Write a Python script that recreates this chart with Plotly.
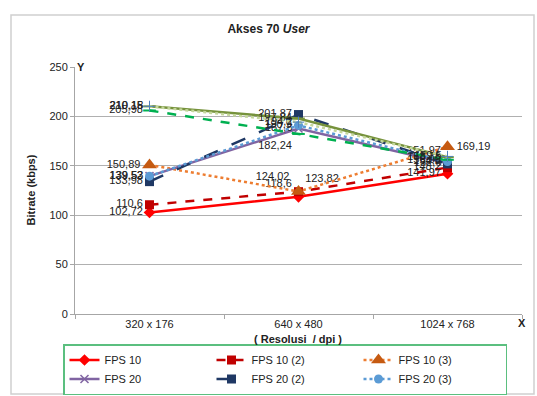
import plotly.graph_objects as go

categories = ["320 x 176", "640 x 480", "1024 x 768"]
fps10 = [102.72, 118.6, 141.97]
fps10_2 = [110.6, 123.82, 148.2]
fps10_3 = [150.89, 124.02, 169.19]
fps20 = [139.53, 187.8, 152.6]
fps20_2 = [133.98, 201.87, 151.97]
fps20_3 = [139.52, 190.9, 154.3]
fps30 = [210.15, 197.84, 158.78]
fps30_2 = [205.98, 182.24, 156.09]
fps30_3 = [210.18, 194.2, 159.5]
y_ticks = [0, 50, 100, 150, 200, 250]

xs = list(range(len(categories)))

def fmt(v):
    s = ("%.2f" % v).rstrip("0").rstrip(".")
    return s.replace(".", ",")

series = [
    ("FPS 10", fps10, dict(color="#FF0000", width=2.5, dash="solid"), dict(symbol="diamond", size=9, color="#FF0000"), True,
     ["middle left", "top left", "middle left"]),
    ("FPS 10 (2)", fps10_2, dict(color="#C00000", width=2.5, dash="dash"), dict(symbol="square", size=9, color="#C00000"), True,
     ["middle left", "top right", "middle left"]),
    ("FPS 10 (3)", fps10_3, dict(color="#ED7D31", width=2.5, dash="dot"), dict(symbol="triangle-up", size=13, color="#C55A11"), True,
     ["middle left", "top left", "middle right"]),
    ("FPS 20", fps20, dict(color="#8064A2", width=2.5, dash="solid"), dict(symbol="x-thin", size=8, color="#8064A2", line=dict(width=1.5, color="#8064A2")), True,
     ["middle left", "middle left", "middle left"]),
    ("FPS 20 (2)", fps20_2, dict(color="#1F3864", width=2.5, dash="longdash"), dict(symbol="square", size=9, color="#1F3864"), True,
     ["middle left", "middle left", "top left"]),
    ("FPS 20 (3)", fps20_3, dict(color="#5B9BD5", width=2.5, dash="dot"), dict(symbol="circle", size=9, color="#5B9BD5"), True,
     ["middle left", "middle left", "middle left"]),
    ("FPS 30", fps30, dict(color="#76923C", width=2.5, dash="solid"), dict(symbol="line-ew", size=9, color="#76923C", line=dict(width=2, color="#76923C")), False,
     ["middle left", "middle left", "middle left"]),
    ("FPS 30 (2)", fps30_2, dict(color="#00B050", width=2.5, dash="dash"), dict(symbol="line-ew", size=9, color="#00B050", line=dict(width=2, color="#00B050")), False,
     ["middle left", "bottom left", "middle left"]),
    ("FPS 30 (3)", fps30_3, dict(color="#C3D69B", width=2.5, dash="dot"), dict(symbol="cross-thin", size=8, color="#4F81BD", line=dict(width=1, color="#4F81BD")), False,
     ["middle left", "middle left", "middle left"]),
]

fig = go.Figure()
for name, vals, line, marker, show, tpos in series:
    fig.add_trace(go.Scatter(
        x=xs, y=vals, name=name, mode="lines+markers+text",
        line=line, marker=marker, showlegend=show,
        text=[fmt(v) for v in vals], textposition=tpos,
        textfont=dict(family="Liberation Sans", size=11, color="#222222"),
        cliponaxis=False,
    ))

fig.update_layout(
    width=537, height=396,
    margin=dict(l=75, r=15, t=67, b=82, autoexpand=False),
    paper_bgcolor="white", plot_bgcolor="white",
    font=dict(family="Liberation Sans", size=11, color="#222222"),
    title=dict(text="<b>Akses 70 <i>User</i></b>", x=0.5, xanchor="center", y=1 - 29 / 396, yanchor="middle",
               font=dict(size=12)),
    xaxis=dict(
        range=[-0.5, 2.5], tickvals=xs, ticktext=categories, ticks="", showgrid=False,
        showline=True, linecolor="#A6A6A6", linewidth=1, zeroline=False,
        minor=dict(tickvals=[-0.5, 0.5, 1.5, 2.5], ticks="outside", ticklen=4, tickcolor="#A6A6A6", showgrid=False),
        tickfont=dict(size=11),
    ),
    yaxis=dict(
        range=[0, 250], tickvals=y_ticks, showgrid=True, gridcolor="#B0B0B0", gridwidth=1,
        showline=True, linecolor="#A6A6A6", ticks="outside", ticklen=4, tickcolor="#A6A6A6",
        zeroline=False, tickfont=dict(size=11),
    ),
    legend=dict(
        orientation="h", xref="container", yref="container",
        x=63 / 537, y=1 - 344 / 396, xanchor="left", yanchor="top",
        bordercolor="#5BBF7F", borderwidth=1.5, entrywidth=102, entrywidthmode="pixels",
        font=dict(size=11), traceorder="normal", tracegroupgap=0,
    ),
)

fig.add_annotation(text="<b>Bitrate (kbps)</b>", textangle=-90, xref="paper", yref="paper",
                   x=(30 - 75) / 447, y=0.5, xanchor="center", yanchor="middle",
                   showarrow=False, font=dict(size=11))
fig.add_annotation(text="<b>( Resolusi  / dpi )</b>", xref="paper", yref="paper",
                   x=(298 - 75) / 447, y=(314 - 339) / 247, xanchor="center", yanchor="middle",
                   showarrow=False, font=dict(size=11))
fig.add_annotation(text="<b>Y</b>", xref="paper", yref="paper", x=0, y=1, xanchor="left", yanchor="middle",
                   showarrow=False, font=dict(size=11))
fig.add_annotation(text="<b>X</b>", xref="paper", yref="paper", x=1, y=(314 - 323) / 247, xanchor="center",
                   yanchor="middle", showarrow=False, font=dict(size=11))

fig.add_shape(type="rect", xref="paper", yref="paper",
              x0=(11 - 75) / 447, x1=(534 - 75) / 447, y0=(314 - 394) / 247, y1=(314 - 15) / 247,
              line=dict(color="#D0D0D0", width=1.5), layer="below")

fig.write_html("out.html")
